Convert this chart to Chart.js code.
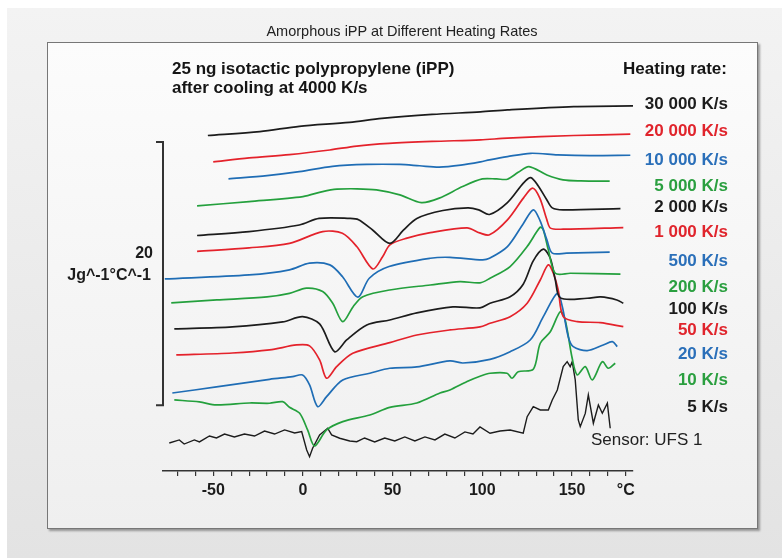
<!DOCTYPE html>
<html>
<head>
<meta charset="utf-8">
<script src="https://cdn.jsdelivr.net/npm/chart.js@4.4.1/dist/chart.umd.min.js"></script>
<style>
  html, body { margin: 0; padding: 0; width: 782px; height: 558px; overflow: hidden; background: #fff; font-family: "Liberation Sans", Arial, sans-serif; }
  #slide { position: absolute; left: 7px; top: 8px; right: 0; bottom: 0; background: linear-gradient(#f3f3f3, #e3e3e3); }
  #box { position: absolute; left: 47px; top: 42px; width: 709px; height: 485px; border: 1px solid #777; background: linear-gradient(#fcfcfc, #efefef); box-shadow: 2px 2px 2px rgba(0,0,0,0.35); }
  #chart { position: absolute; left: 0; top: 0; }
  .txt { position: absolute; white-space: nowrap; line-height: 20px; height: 20px; }
</style>
</head>
<body>
<div id="slide"></div>
<div id="box"></div>
<canvas id="chart" width="782" height="558"></canvas>
<div id="labels"></div>
<script>
// heat capacity curves, [temperature °C, J/g/°C incl. stacking offset]
const rate30000 = [[-53, 25.5], [-24, 25.8], [-2, 26.2], [26, 26.5], [44, 26.8], [72, 27.1], [99, 27.3], [114, 27.45], [151, 27.7], [184, 27.75]];
const rate20000 = [[-50, 23.5], [-30, 23.8], [-7.5, 24.05], [15, 24.4], [30, 24.7], [48, 24.9], [72, 25.05], [99, 25.17], [114, 25.3], [151, 25.5], [182.5, 25.6]];
const rate10000 = [[-41.5, 22.2], [-20, 22.45], [-2, 22.75], [16.5, 23.15], [35.5, 23.3], [54, 23.3], [65, 23.2], [76, 23.1], [88, 23.25], [99, 23.5], [104, 23.65], [114, 23.9], [127, 24.15], [142, 24.03], [160, 23.97], [182.5, 24.0]];
const rate5000 = [[-59, 20.15], [-30, 20.48], [0, 20.86], [11, 21.24], [19, 21.42], [30, 21.45], [41, 21.37], [54, 20.99], [66, 20.4], [76, 20.74], [89, 21.62], [100, 22.2], [108, 22.2], [114, 22.18], [120, 22.7], [126, 23.14], [136, 22.5], [145, 22.13], [155, 22.05], [171, 22.03]];
const rate2000 = [[-59, 17.9], [-30, 18.2], [-2, 18.7], [9, 19.2], [26, 19.2], [31, 19.1], [39, 18.3], [48.5, 17.3], [56, 18.3], [63.5, 19.2], [78, 19.8], [92, 20.0], [98, 19.85], [104, 19.5], [114, 20.4], [123, 21.9], [127, 22.3], [131, 21.7], [136, 20.6], [139, 20.0], [145, 19.85], [177, 19.95]];
const rate1000 = [[-59, 16.7], [-30, 16.96], [-7.5, 17.3], [11, 18.2], [22, 18.07], [30, 17.06], [39, 15.36], [44.5, 16.3], [48.5, 17.19], [58, 17.7], [71, 18.12], [91.5, 18.48], [98.5, 18.1], [104, 17.95], [114, 19.09], [123, 20.76], [128, 21.5], [132, 20.76], [136, 19.09], [138, 18.46], [145, 18.38], [178.6, 18.5]];
const rate500 = [[-77, 14.6], [-30, 14.9], [-7.5, 15.29], [3.7, 15.8], [15, 15.67], [22, 14.78], [30.6, 13.21], [37, 14.65], [48, 15.54], [71, 16.17], [82, 16.24], [100, 16.05], [104, 16.17], [114, 17.06], [123, 18.84], [128.4, 19.85], [132, 19.09], [136, 17.57], [139, 16.56], [147, 16.56], [171, 16.63]];
const rate200 = [[-73.4, 12.78], [-48, 13.0], [-20, 13.23], [-7.5, 13.5], [2, 13.9], [11, 13.64], [16.6, 12.75], [22.2, 11.35], [28, 12.49], [33.4, 13.25], [48.4, 13.76], [71, 14.14], [87.5, 14.4], [98.7, 14.3], [104.3, 14.65], [115.5, 15.54], [125, 17.06], [132.3, 18.53], [134, 18.33], [136.8, 16.81], [140.7, 15.03], [149, 15.03], [177, 14.96]];
const rate100 = [[-71.7, 10.8], [-39.3, 10.95], [-11.3, 11.33], [-0.2, 11.73], [9.3, 11.18], [17.7, 9.07], [24.4, 9.96], [35.6, 11.1], [48.4, 11.48], [63.5, 12.02], [83.6, 12.47], [98.7, 12.4], [104.3, 12.75], [115.5, 13.25], [122.8, 14.2], [128.4, 15.97], [134, 16.86], [137.9, 16.17], [140.7, 14.52], [143.5, 13.16], [158.5, 13.13], [166, 13.23], [175, 13.0], [178.6, 12.75]];
const rate50 = [[-70.6, 8.82], [-39.3, 8.97], [-18.6, 9.2], [-3.5, 9.58], [3.7, 9.51], [9.3, 8.44], [13.2, 7.05], [18.8, 7.93], [27.8, 8.95], [48.4, 9.76], [63.5, 10.34], [81.9, 10.72], [98.7, 10.95], [104.3, 11.23], [115.5, 11.73], [125, 12.75], [132.3, 14.52], [136.8, 15.67], [139.6, 15.03], [142.3, 13.76], [145.1, 11.73], [152.9, 11.35], [165.7, 11.28], [178.6, 10.97]];
const rate20 = [[-72.8, 5.93], [-48.2, 6.39], [-18.6, 6.97], [-5.8, 7.17], [-0.2, 7.3], [3.7, 6.54], [8.2, 4.89], [13.2, 5.65], [22.2, 6.92], [37.3, 7.43], [48.4, 7.81], [63.5, 7.91], [81.9, 8.37], [89.2, 8.21], [104.3, 8.49], [115.5, 9.07], [126.7, 9.96], [134, 11.73], [141.8, 13.51], [144.6, 12.49], [147.9, 10.21], [150.7, 9.45], [158.5, 9.15], [167.4, 9.58], [172.5, 9.83], [175.2, 9.45]];
const rate10 = [[-71.7, 5.4], [-57.7, 5.25], [-48.2, 5.02], [-29.8, 5.17], [-18.6, 5.15], [-11.3, 5.27], [-7.5, 4.84], [-1.8, 4.39], [2.6, 3.12], [6.5, 1.9], [13.2, 3.12], [22.2, 3.75], [37.3, 4.26], [48.4, 4.84], [63.5, 5.17], [76.4, 5.93], [81.9, 6.16], [91.5, 6.8], [98.7, 7.2], [104.3, 7.43], [113.8, 7.43], [116.6, 7.05], [120, 7.55], [128.4, 7.73], [132.3, 9.71], [137.9, 10.59], [143.5, 12.11], [146.2, 11.48], [150.1, 8.57], [152.9, 7.3], [157.4, 7.93], [161.3, 6.92], [166.9, 8.31], [170.2, 7.81], [174.1, 8.19]];
const rate5 = [[-74.5, 2.13], [-68.9, 2.36], [-66.2, 2.05], [-60.5, 2.36], [-57.7, 2.21], [-52.1, 2.66], [-48.2, 2.51], [-43.7, 2.81], [-38.2, 2.59], [-32.6, 2.81], [-27, 2.66], [-21.4, 3.04], [-15.8, 2.81], [-10.2, 3.12], [-4.6, 2.89], [-0.7, 2.99], [2.1, 1.6], [3.7, 1.09], [5.4, 1.73], [9.3, 2.74], [13.8, 3.25], [16, 2.74], [20.5, 2.49], [26.1, 2.28], [30, 2.23], [34.4, 2.51], [40, 2.21], [45.6, 2.51], [51.2, 2.28], [56.8, 2.59], [62.4, 2.28], [68, 2.59], [73.6, 2.36], [79.1, 2.81], [84.7, 2.51], [90.3, 2.97], [94.8, 2.81], [98.7, 3.35], [104.3, 2.87], [109.9, 3.04], [115.5, 3.12], [122.8, 2.87], [125, 4.13], [128.4, 4.89], [132.3, 4.64], [136.8, 4.64], [139, 5.4], [141.8, 6.16], [145.1, 7.93], [147.3, 8.31], [149, 7.93], [150.1, 8.31], [151.8, 6.92], [153.5, 3.88], [154.6, 3.37], [157.4, 4.38], [159.1, 5.78], [161.9, 3.63], [164.7, 5.02], [166.9, 4.39], [169.7, 5.15], [171.3, 3.25]];

const seriesData = [rate30000, rate20000, rate10000, rate5000, rate2000, rate1000, rate500, rate200, rate100, rate50, rate20, rate10, rate5];
const rateLabels = ['30 000 K/s', '20 000 K/s', '10 000 K/s', '5 000 K/s', '2 000 K/s', '1 000 K/s', '500 K/s', '200 K/s', '100 K/s', '50 K/s', '20 K/s', '10 K/s', '5 K/s'];

// x axis: minor tick every 10 °C, numbers every 50, unit in place of 180
const tickValues = [-70, -60, -50, -40, -30, -20, -10, 0, 10, 20, 30, 40, 50, 60, 70, 80, 90, 100, 110, 120, 130, 140, 150, 160, 170, 180];
const labelledTicks = [-50, 0, 50, 100, 150];
const unitTick = 180;
const unitLabel = '°C';

// scale bar: 20 J/g/°C
const scaleBarRange = [5, 25];
const scaleBarValue = '20';
const scaleBarUnit = 'Jg^-1°C^-1';

const black = '#1c1c1c', red = '#e4222b', blue = '#1f6db5', green = '#24a03d';
const lineColors = [black, red, blue, green, black, red, blue, green, black, red, blue, green, black];
const textColors = ['#1c1c1c', '#e0242c', '#2a6fb9', '#2a9f3f', '#1c1c1c', '#e0242c', '#2a6fb9', '#2a9f3f', '#1c1c1c', '#e0242c', '#2a6fb9', '#2a9f3f', '#1c1c1c'];
const labelCenters = [104, 131, 160, 186, 207, 232, 261, 287, 309, 330, 354, 380, 407];

const datasets = seriesData.map((series, i) => ({
  label: rateLabels[i],
  data: series.map(([x, y]) => ({ x, y })),
  borderColor: lineColors[i],
  borderWidth: i === 12 ? 1.4 : 1.7,
  pointRadius: 0,
  tension: i === 12 ? 0 : 0.3,
  fill: false,
}));

const scaleBarPlugin = {
  id: 'scaleBar',
  afterDraw: (chart) => {
    const { ctx, chartArea } = chart;
    const y = chart.scales.y;
    const top = y.getPixelForValue(scaleBarRange[1]);
    const bottom = y.getPixelForValue(scaleBarRange[0]);
    const left = chartArea.left;
    ctx.save();
    ctx.strokeStyle = '#333';
    ctx.lineWidth = 2;
    ctx.beginPath();
    ctx.moveTo(left - 7, top);
    ctx.lineTo(left, top);
    ctx.lineTo(left, bottom);
    ctx.lineTo(left - 7, bottom);
    ctx.stroke();

    const mid = (top + bottom) / 2;
    ctx.fillStyle = '#1c1c1c';
    ctx.textAlign = 'right';
    ctx.textBaseline = 'middle';
    ctx.font = 'bold 16px "Liberation Sans", Arial, sans-serif';
    ctx.fillText(scaleBarValue, left - 10, mid - 20);
    ctx.fillText(scaleBarUnit, left - 12, mid + 2);
    ctx.restore();
  },
};

new Chart(document.getElementById('chart'), {
  type: 'line',
  data: { datasets },
  options: {
    responsive: false,
    animation: false,
    layout: { padding: { left: 163, right: 149, top: 50, bottom: 47 } },
    plugins: { legend: { display: false }, tooltip: { enabled: false } },
    scales: {
      x: {
        type: 'linear',
        min: -78,
        max: 184,
        afterBuildTicks: (scale) => {
          scale.ticks = tickValues.map((value) => ({ value }));
        },
        afterFit: (scale) => {
          scale.height = 40;
        },
        grid: { drawOnChartArea: false, drawTicks: true, tickLength: 5, color: '#333', lineWidth: 1.2 },
        border: { display: true, color: '#333', width: 1.5 },
        ticks: {
          autoSkip: false,
          maxRotation: 0,
          padding: 5,
          color: '#1c1c1c',
          font: { family: '"Liberation Sans", Arial, sans-serif', size: 16, weight: 'bold' },
          callback: (v) => (labelledTicks.includes(v) ? String(v) : v === unitTick ? unitLabel : ''),
        },
      },
      y: { min: 0, max: 32, display: false },
    },
  },
  plugins: [scaleBarPlugin],
});

// text overlays
const labels = document.getElementById('labels');
const addText = (text, style) => {
  const d = document.createElement('div');
  d.className = 'txt';
  d.textContent = text;
  Object.assign(d.style, style);
  labels.appendChild(d);
};
addText('Amorphous iPP at Different Heating Rates', { left: '0px', width: '804px', textAlign: 'center', top: '21px', fontSize: '14.5px', color: '#222' });
addText('25 ng isotactic polypropylene (iPP)', { left: '172px', top: '59px', fontSize: '17px', fontWeight: 'bold', color: '#151515' });
addText('after cooling at 4000 K/s', { left: '172px', top: '78px', fontSize: '17px', fontWeight: 'bold', color: '#151515' });
addText('Heating rate:', { right: '55px', top: '59px', fontSize: '17px', fontWeight: 'bold', color: '#151515' });
rateLabels.forEach((t, i) => {
  addText(t, { right: '54px', top: (labelCenters[i] - 10) + 'px', fontSize: '17px', fontWeight: 'bold', color: textColors[i] });
});
addText('Sensor: UFS 1', { left: '591px', top: '430px', fontSize: '17px', color: '#222' });
</script>
</body>
</html>
